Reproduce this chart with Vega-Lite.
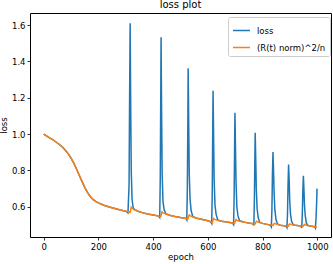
{
  "$schema": "https://vega.github.io/schema/vega-lite/v6.json",
  "width": 301,
  "height": 224,
  "autosize": "none",
  "padding": {"left": 30, "top": 13, "right": 2, "bottom": 27},
  "background": "white",
  "config": {
    "font": "DejaVu Sans",
    "view": {"stroke": "#000", "strokeWidth": 1},
    "axis": {
      "domain": false, "grid": false, "tickColor": "#000", "tickSize": 3, "tickWidth": 0.8,
      "labelColor": "#000", "labelFontSize": 8.5, "labelFont": "DejaVu Sans",
      "titleColor": "#000", "titleFontSize": 8.5, "titleFont": "DejaVu Sans", "titleFontWeight": "normal"
    }
  },
  "title": {"text": "loss plot", "fontSize": 10, "fontWeight": "normal", "font": "DejaVu Sans", "color": "#000", "offset": -7, "baseline": "bottom", "frame": "group"},
  "datasets": {
    "loss": [
      {"epoch": 0, "value": 1.0}, {"epoch": 10, "value": 0.99}, {"epoch": 20, "value": 0.981}, {"epoch": 30, "value": 0.972},
      {"epoch": 40, "value": 0.962}, {"epoch": 50, "value": 0.951}, {"epoch": 60, "value": 0.94}, {"epoch": 70, "value": 0.926},
      {"epoch": 80, "value": 0.91}, {"epoch": 90, "value": 0.891}, {"epoch": 100, "value": 0.868}, {"epoch": 110, "value": 0.84},
      {"epoch": 120, "value": 0.808}, {"epoch": 130, "value": 0.774}, {"epoch": 140, "value": 0.74}, {"epoch": 150, "value": 0.707},
      {"epoch": 160, "value": 0.679}, {"epoch": 170, "value": 0.657}, {"epoch": 180, "value": 0.641}, {"epoch": 190, "value": 0.63},
      {"epoch": 200, "value": 0.622}, {"epoch": 220, "value": 0.609}, {"epoch": 240, "value": 0.599}, {"epoch": 260, "value": 0.591},
      {"epoch": 280, "value": 0.583}, {"epoch": 300, "value": 0.576},
      {"epoch": 308, "value": 0.566}, {"epoch": 312, "value": 0.72}, {"epoch": 314, "value": 1.2}, {"epoch": 316, "value": 1.609},
      {"epoch": 318, "value": 1.15}, {"epoch": 320, "value": 0.8}, {"epoch": 323, "value": 0.64}, {"epoch": 327, "value": 0.595},
      {"epoch": 333, "value": 0.584}, {"epoch": 345, "value": 0.576}, {"epoch": 360, "value": 0.568}, {"epoch": 380, "value": 0.561},
      {"epoch": 400, "value": 0.555}, {"epoch": 420, "value": 0.549},
      {"epoch": 424, "value": 0.541}, {"epoch": 426, "value": 0.75}, {"epoch": 428, "value": 1.25}, {"epoch": 429, "value": 1.532},
      {"epoch": 431, "value": 1.1}, {"epoch": 433, "value": 0.78}, {"epoch": 436, "value": 0.63}, {"epoch": 440, "value": 0.585},
      {"epoch": 446, "value": 0.562}, {"epoch": 460, "value": 0.554}, {"epoch": 480, "value": 0.547}, {"epoch": 500, "value": 0.541},
      {"epoch": 520, "value": 0.536},
      {"epoch": 523, "value": 0.528}, {"epoch": 525, "value": 0.7}, {"epoch": 527, "value": 1.1}, {"epoch": 528, "value": 1.362},
      {"epoch": 530, "value": 1.05}, {"epoch": 532, "value": 0.78}, {"epoch": 535, "value": 0.64}, {"epoch": 539, "value": 0.578},
      {"epoch": 545, "value": 0.546}, {"epoch": 560, "value": 0.537}, {"epoch": 580, "value": 0.53}, {"epoch": 600, "value": 0.523},
      {"epoch": 610, "value": 0.518},
      {"epoch": 614, "value": 0.508}, {"epoch": 616, "value": 0.68}, {"epoch": 618, "value": 1.05}, {"epoch": 619, "value": 1.238},
      {"epoch": 621, "value": 0.98}, {"epoch": 623, "value": 0.75}, {"epoch": 626, "value": 0.61}, {"epoch": 630, "value": 0.56},
      {"epoch": 636, "value": 0.528}, {"epoch": 650, "value": 0.521}, {"epoch": 670, "value": 0.516}, {"epoch": 690, "value": 0.511},
      {"epoch": 694, "value": 0.502}, {"epoch": 696, "value": 0.66}, {"epoch": 698, "value": 0.98}, {"epoch": 699, "value": 1.117},
      {"epoch": 701, "value": 0.92}, {"epoch": 703, "value": 0.73}, {"epoch": 706, "value": 0.6}, {"epoch": 710, "value": 0.55},
      {"epoch": 716, "value": 0.523}, {"epoch": 740, "value": 0.513}, {"epoch": 765, "value": 0.507},
      {"epoch": 768, "value": 0.498}, {"epoch": 770, "value": 0.64}, {"epoch": 772, "value": 0.9}, {"epoch": 773, "value": 1.007},
      {"epoch": 775, "value": 0.86}, {"epoch": 777, "value": 0.7}, {"epoch": 780, "value": 0.59}, {"epoch": 784, "value": 0.54},
      {"epoch": 790, "value": 0.514}, {"epoch": 800, "value": 0.509}, {"epoch": 820, "value": 0.502}, {"epoch": 828, "value": 0.5},
      {"epoch": 832, "value": 0.49}, {"epoch": 834, "value": 0.58}, {"epoch": 836, "value": 0.78}, {"epoch": 838, "value": 0.901},
      {"epoch": 840, "value": 0.8}, {"epoch": 842, "value": 0.68}, {"epoch": 845, "value": 0.58}, {"epoch": 849, "value": 0.53},
      {"epoch": 855, "value": 0.504}, {"epoch": 865, "value": 0.499}, {"epoch": 885, "value": 0.494},
      {"epoch": 889, "value": 0.485}, {"epoch": 891, "value": 0.56}, {"epoch": 893, "value": 0.72}, {"epoch": 895, "value": 0.833},
      {"epoch": 897, "value": 0.75}, {"epoch": 899, "value": 0.64}, {"epoch": 902, "value": 0.56}, {"epoch": 906, "value": 0.52},
      {"epoch": 912, "value": 0.501}, {"epoch": 920, "value": 0.498}, {"epoch": 940, "value": 0.494},
      {"epoch": 943, "value": 0.484}, {"epoch": 945, "value": 0.55}, {"epoch": 947, "value": 0.68}, {"epoch": 949, "value": 0.771},
      {"epoch": 951, "value": 0.7}, {"epoch": 953, "value": 0.61}, {"epoch": 956, "value": 0.55}, {"epoch": 960, "value": 0.51},
      {"epoch": 966, "value": 0.497}, {"epoch": 975, "value": 0.494}, {"epoch": 990, "value": 0.491},
      {"epoch": 993, "value": 0.483}, {"epoch": 995, "value": 0.53}, {"epoch": 997, "value": 0.6}, {"epoch": 999, "value": 0.7}
    ],
    "rnorm": [
      {"epoch": 0, "value": 1.0}, {"epoch": 10, "value": 0.99}, {"epoch": 20, "value": 0.981}, {"epoch": 30, "value": 0.972},
      {"epoch": 40, "value": 0.962}, {"epoch": 50, "value": 0.951}, {"epoch": 60, "value": 0.94}, {"epoch": 70, "value": 0.926},
      {"epoch": 80, "value": 0.91}, {"epoch": 90, "value": 0.891}, {"epoch": 100, "value": 0.868}, {"epoch": 110, "value": 0.84},
      {"epoch": 120, "value": 0.808}, {"epoch": 130, "value": 0.774}, {"epoch": 140, "value": 0.74}, {"epoch": 150, "value": 0.707},
      {"epoch": 160, "value": 0.679}, {"epoch": 170, "value": 0.657}, {"epoch": 180, "value": 0.641}, {"epoch": 190, "value": 0.63},
      {"epoch": 200, "value": 0.622}, {"epoch": 220, "value": 0.609}, {"epoch": 240, "value": 0.599}, {"epoch": 260, "value": 0.591},
      {"epoch": 280, "value": 0.583}, {"epoch": 300, "value": 0.576}, {"epoch": 316, "value": 0.57}, {"epoch": 318, "value": 0.585},
      {"epoch": 320, "value": 0.598}, {"epoch": 324, "value": 0.592}, {"epoch": 330, "value": 0.585}, {"epoch": 345, "value": 0.576},
      {"epoch": 360, "value": 0.568}, {"epoch": 380, "value": 0.561}, {"epoch": 400, "value": 0.555}, {"epoch": 420, "value": 0.549},
      {"epoch": 428, "value": 0.547}, {"epoch": 430, "value": 0.56}, {"epoch": 432, "value": 0.572}, {"epoch": 436, "value": 0.567},
      {"epoch": 445, "value": 0.561}, {"epoch": 460, "value": 0.554}, {"epoch": 480, "value": 0.547}, {"epoch": 500, "value": 0.541},
      {"epoch": 520, "value": 0.536}, {"epoch": 527, "value": 0.534}, {"epoch": 529, "value": 0.545}, {"epoch": 532, "value": 0.555},
      {"epoch": 536, "value": 0.55}, {"epoch": 545, "value": 0.544}, {"epoch": 560, "value": 0.537}, {"epoch": 580, "value": 0.53},
      {"epoch": 600, "value": 0.523}, {"epoch": 617, "value": 0.514}, {"epoch": 619, "value": 0.527}, {"epoch": 621, "value": 0.536},
      {"epoch": 625, "value": 0.531}, {"epoch": 635, "value": 0.526}, {"epoch": 650, "value": 0.521}, {"epoch": 670, "value": 0.516},
      {"epoch": 690, "value": 0.511}, {"epoch": 698, "value": 0.509}, {"epoch": 700, "value": 0.52}, {"epoch": 703, "value": 0.53},
      {"epoch": 707, "value": 0.525}, {"epoch": 720, "value": 0.519}, {"epoch": 740, "value": 0.513}, {"epoch": 760, "value": 0.508},
      {"epoch": 772, "value": 0.505}, {"epoch": 775, "value": 0.514}, {"epoch": 778, "value": 0.521}, {"epoch": 783, "value": 0.516},
      {"epoch": 800, "value": 0.509}, {"epoch": 820, "value": 0.502}, {"epoch": 838, "value": 0.498}, {"epoch": 841, "value": 0.505},
      {"epoch": 844, "value": 0.509}, {"epoch": 850, "value": 0.505}, {"epoch": 865, "value": 0.499}, {"epoch": 885, "value": 0.494},
      {"epoch": 894, "value": 0.493}, {"epoch": 896, "value": 0.5}, {"epoch": 899, "value": 0.506}, {"epoch": 905, "value": 0.502},
      {"epoch": 920, "value": 0.498}, {"epoch": 940, "value": 0.494}, {"epoch": 948, "value": 0.493}, {"epoch": 950, "value": 0.498},
      {"epoch": 953, "value": 0.503}, {"epoch": 960, "value": 0.499}, {"epoch": 975, "value": 0.494}, {"epoch": 990, "value": 0.49},
      {"epoch": 999, "value": 0.487}
    ]
  },
  "encoding": {
    "x": {"field": "epoch", "type": "quantitative", "title": "epoch",
          "scale": {"domain": [-50, 1050], "nice": false, "zero": false},
          "axis": {"values": [0, 200, 400, 600, 800, 1000], "format": "d", "labelPadding": 2, "titlePadding": 2, "labelFlush": false}},
    "y": {"field": "value", "type": "quantitative", "title": "loss",
          "scale": {"domain": [0.434, 1.666], "nice": false, "zero": false},
          "axis": {"values": [0.6, 0.8, 1.0, 1.2, 1.4, 1.6], "format": ".1f", "labelPadding": 2, "titlePadding": 3, "labelFlush": false}}
  },
  "layer": [
    {
      "data": {"name": "loss"},
      "mark": {"type": "line", "strokeWidth": 1.5, "clip": true},
      "encoding": {
        "color": {"datum": "loss", "type": "nominal",
                  "scale": {"domain": ["loss", "(R(t) norm)^2/n"], "range": ["#1f77b4", "#ff7f0e"]},
                  "legend": {"orient": "none", "legendX": 198, "legendY": 4, "title": null,
                             "symbolType": "stroke", "symbolSize": 289, "symbolStrokeWidth": 1.5,
                             "labelFontSize": 8.5, "labelFont": "DejaVu Sans", "labelColor": "#000", "labelOffset": 6,
                             "fillColor": "rgba(255,255,255,0.8)", "strokeColor": "#cccccc", "padding": 4,
                             "cornerRadius": 2, "rowPadding": 3}}
      }
    },
    {
      "data": {"name": "rnorm"},
      "mark": {"type": "line", "strokeWidth": 1.5, "clip": true},
      "encoding": {
        "color": {"datum": "(R(t) norm)^2/n", "type": "nominal"}
      }
    }
  ]
}
